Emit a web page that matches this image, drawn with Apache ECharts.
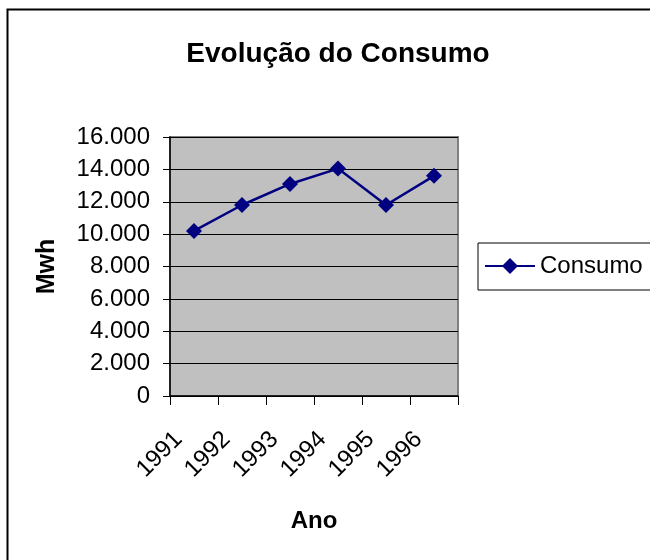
<!DOCTYPE html>
<html>
<head>
<meta charset="utf-8">
<script src="https://cdn.jsdelivr.net/npm/echarts@6/dist/echarts.min.js"></script>
<style>
  html, body { margin: 0; padding: 0; background: #fff; }
  #chart { width: 650px; height: 560px; }
</style>
</head>
<body>
<div id="chart"></div>
<script>
// dados do gráfico
var anos = ['1991', '1992', '1993', '1994', '1995', '1996'];
var consumo = [10200, 11800, 13100, 14050, 11800, 13600];
var yMin = 0, yMax = 16000, yStep = 2000;

var fonte = '"Liberation Sans", Arial, sans-serif';

// formata 16000 -> 16.000
function fmt(v) {
    return String(v).replace(/\B(?=(\d{3})+(?!\d))/g, '.');
}

var chart = echarts.init(document.getElementById('chart'), null, { renderer: 'canvas' });

var option = {
    animation: false,
    backgroundColor: '#fff',
    title: {
        text: 'Evolução do Consumo',
        left: 333,
        top: 35,
        textAlign: 'center',
        textStyle: { fontFamily: fonte, fontSize: 28, fontWeight: 'bold', color: '#000' }
    },
    // moldura do gráfico (cortada à direita e em baixo)
    graphic: [{
        type: 'rect',
        left: 5,
        top: 7,
        shape: { width: 680, height: 600 },
        style: { fill: 'none', stroke: '#000', lineWidth: 2 },
        silent: true
    }],
    legend: {
        data: ['Consumo'],
        left: 478,
        top: 243,
        orient: 'vertical',
        borderColor: '#000',
        borderWidth: 1,
        padding: [11, 30, 12, 6],
        itemWidth: 50,
        itemHeight: 20,
        itemGap: 4,
        textStyle: { fontFamily: fonte, fontSize: 24, color: '#000' }
    },
    grid: {
        left: 170,
        right: 192,
        top: 137,
        bottom: 164,
        show: true,
        backgroundColor: '#c0c0c0',
        borderColor: '#808080',
        borderWidth: 2
    },
    xAxis: {
        type: 'category',
        data: anos,
        boundaryGap: true,
        name: 'Ano',
        nameLocation: 'middle',
        nameGap: 113,
        nameTextStyle: { fontFamily: fonte, fontSize: 24, fontWeight: 'bold', color: '#000' },
        axisLine: { show: true, lineStyle: { color: '#000', width: 1.5 } },
        axisTick: { show: true, alignWithLabel: false, length: 9, lineStyle: { color: '#000' } },
        axisLabel: {
            rotate: 45,
            interval: 0,
            margin: 24,
            padding: [0, 22, 0, 0],
            fontFamily: fonte,
            fontSize: 24,
            color: '#000'
        },
        splitLine: { show: false }
    },
    yAxis: {
        type: 'value',
        min: yMin,
        max: yMax,
        interval: yStep,
        name: 'Mwh',
        nameLocation: 'middle',
        nameGap: 110,
        nameRotate: 90,
        nameTextStyle: { fontFamily: fonte, fontSize: 25, fontWeight: 'bold', color: '#000' },
        axisLine: { show: true, lineStyle: { color: '#000', width: 1.5 } },
        axisTick: { show: true, length: 7, lineStyle: { color: '#000' } },
        axisLabel: {
            margin: 20,
            fontFamily: fonte,
            fontSize: 24,
            color: '#000',
            formatter: fmt
        },
        splitLine: { show: true, lineStyle: { color: '#000', width: 1 } }
    },
    series: [{
        name: 'Consumo',
        type: 'line',
        data: consumo,
        color: '#000080',
        symbol: 'diamond',
        symbolSize: 16,
        lineStyle: { color: '#000080', width: 2.5 },
        itemStyle: { color: '#000080' }
    }]
};

chart.setOption(option);
</script>
</body>
</html>
